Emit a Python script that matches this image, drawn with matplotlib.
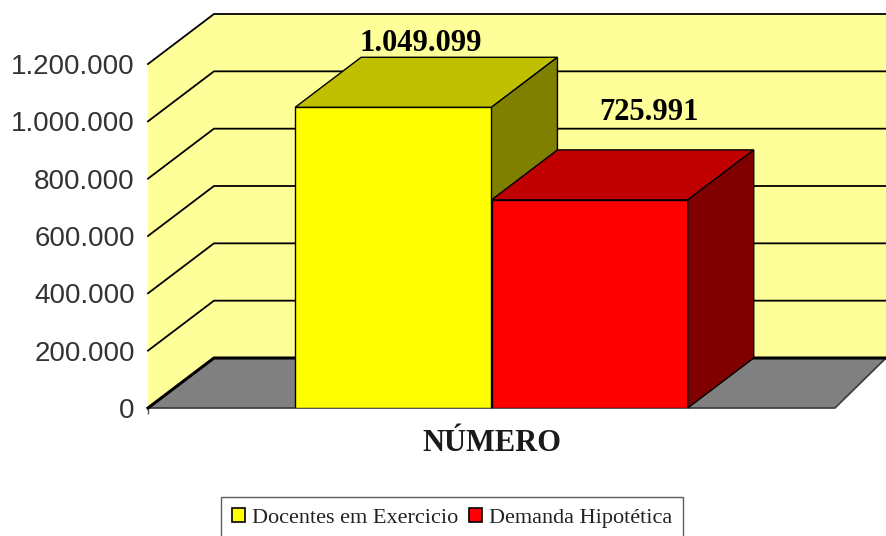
import numpy as np
import matplotlib
matplotlib.use('Agg')
import matplotlib.pyplot as plt
from matplotlib.patches import Polygon, Patch

# Data
categories = ['NÚMERO']
series = ['Docentes em Exercicio', 'Demanda Hipotética']
values = [1049099, 725991]
value_labels = ['1.049.099', '725.991']
yticks = [0, 200000, 400000, 600000, 800000, 1000000, 1200000]
ytick_labels = ['0', '200.000', '400.000', '600.000', '800.000', '1.000.000', '1.200.000']

# Colors (front, top, side)
front_colors = ['#FFFF00', '#FF0000']
top_colors = ['#C0C000', '#C00000']
side_colors = ['#808000', '#800000']
wall_color = '#FFFF99'
floor_color = '#808080'

fig = plt.figure(figsize=(8.86, 5.36), dpi=100)
ax = fig.add_axes([148 / 886, 128 / 536, 687 / 886, 344 / 536])

x0, x1 = -1.75, 1.75
ymax = yticks[-1]
dx, dy = 0.336, 174400   # depth offset (oblique projection)
dx_r = 0.26              # right edge of floor/wall
ax.set_xlim(x0, x1)
ax.set_ylim(0, ymax)

#Walls
side_wall = Polygon([(x0, 0), (x0 + dx, dy), (x0 + dx, ymax + dy), (x0, ymax)],
                    closed=True, facecolor=wall_color, edgecolor='none', zorder=0, clip_on=False)
back_wall = Polygon([(x0 + dx, dy), (x1 + dx_r, dy), (x1 + dx_r, ymax + dy), (x0 + dx, ymax + dy)],
                    closed=True, facecolor=wall_color, edgecolor='none', zorder=0, clip_on=False)
ax.add_patch(side_wall)
ax.add_patch(back_wall)

#Floor
floor = Polygon([(x0, 0), (x1, 0), (x1 + dx_r, dy), (x0 + dx, dy)],
                closed=True, facecolor=floor_color, edgecolor='none', zorder=1, clip_on=False)
ax.add_patch(floor)
ax.plot([x0, x1, x1 + dx_r], [0, 0, dy], color='#3a3a3a', lw=1.2, zorder=1.5, clip_on=False)
ax.plot([x0, x0 + dx, x1 + dx_r], [0, dy, dy], color='black', lw=2.2, zorder=1.6, clip_on=False)

#Gridlines
for v in yticks[1:]:
    ax.plot([x0, x0 + dx, x1 + dx_r], [v, v + dy, v + dy], color='black', lw=1.3,
            zorder=1.2, clip_on=False)

#Bars
positions = [-0.5, 0.5]
width = 1.0
label_offsets = [(-4, 10), (19, 27)]
for i, (p, v) in enumerate(zip(positions, values)):
    z = 3 + i
    ax.bar(p, v, width=width, color=front_colors[i], edgecolor='black', lw=1.0, zorder=z)
    l, r = p - width / 2, p + width / 2
    top = Polygon([(l, v), (r, v), (r + dx, v + dy), (l + dx, v + dy)], closed=True,
                  facecolor=top_colors[i], edgecolor='black', lw=1.0, zorder=z, clip_on=False)
    side = Polygon([(r, 0), (r + dx, dy), (r + dx, v + dy), (r, v)], closed=True,
                   facecolor=side_colors[i], edgecolor='black', lw=1.0, zorder=z, clip_on=False)
    ax.add_patch(top)
    ax.add_patch(side)
    ax.annotate(value_labels[i], xy=(p + dx / 2, v + dy), xytext=label_offsets[i],
                textcoords='offset points', ha='center', va='center', annotation_clip=False,
                fontsize=22, fontweight='bold', family='Liberation Serif', color='black', zorder=10)

#Axes
ax.set_yticks(yticks, ytick_labels)
ax.tick_params(axis='y', length=0, pad=9.5, labelsize=20, labelcolor='#333333')
for t in ax.get_yticklabels():
    t.set_family('Liberation Sans')
ax.set_xticks([0], categories)
ax.tick_params(axis='x', which='major', length=0, pad=15)
for t in ax.get_xticklabels():
    t.set_family('Liberation Serif')
    t.set_fontweight('bold')
    t.set_fontsize(22)
    t.set_color('#1a1a1a')
ax.set_xticks([x0], minor=True)
ax.tick_params(axis='x', which='minor', length=4, width=1, color='#555555')
for s in ax.spines.values():
    s.set_visible(False)
ax.patch.set_visible(False)

#Legend
handles = [Patch(facecolor=c, edgecolor='black', lw=1.2) for c in front_colors]
leg = fig.legend(handles, series, loc='upper center', bbox_to_anchor=(452 / 886, 1 - 497 / 536),
                 ncol=2, frameon=True, fancybox=False, edgecolor='#333333',
                 prop={'family': 'Liberation Serif', 'size': 16},
                 handlelength=0.6, handleheight=0.6, handletextpad=0.3, columnspacing=0.5,
                 borderpad=0.5, borderaxespad=0)
leg.get_frame().set_linewidth(1.0)
for t in leg.get_texts():
    t.set_color('#222222')

fig.savefig('out.png', dpi=100)
